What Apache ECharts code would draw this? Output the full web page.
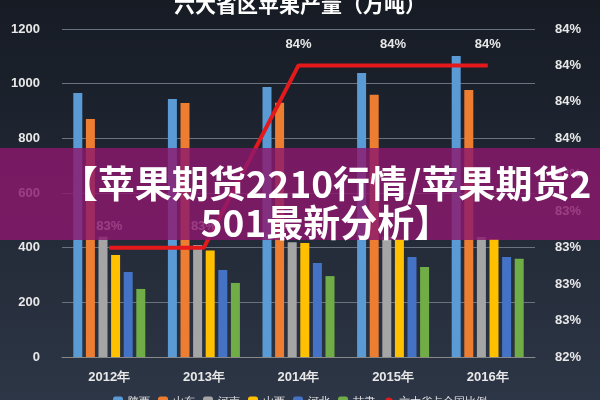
<!DOCTYPE html><html><head><meta charset="utf-8"><script src="https://cdn.jsdelivr.net/npm/echarts@6/dist/echarts.min.js"></script>
<style>html,body{margin:0;background:#262e3b}#c{width:600px;height:400px}</style></head><body><div id="c"></div><script>
const years=['2012年','2013年','2014年','2015年','2016年'];
const names=['陕西','山东','河南','山西','河北','甘肃'];
const shaanxi=[966,944,988,1039,1101];
const shandong=[871,929,930,959,977];
const henan=[440,410,420,440,439];
const shanxi=[373,390,417,432,432];
const hebei=[311,318,344,366,366];
const gansu=[249,271,296,329,359];
const ratio=[0.830,0.830,0.840,0.840,0.840];
const colors=['#5b9bd5','#ed7d31','#a5a5a5','#ffc000','#4472c4','#70ad47'];
const vals=[shaanxi,shandong,henan,shanxi,hebei,gansu];
const ch=echarts.init(document.getElementById('c'));
const txt='#e8e8e8';
ch.setOption({
backgroundColor:{type:'linear',x:0,y:0,x2:0,y2:1,colorStops:[{offset:0,color:'#161b24'},{offset:1,color:'#2d3646'}]},
title:{text:'六大省区苹果产量（万吨）',left:'center',top:-11,textStyle:{color:'#fff',fontSize:21,fontWeight:'bold',fontFamily:'Noto Sans CJK SC'}},
legend:{bottom:-12,itemWidth:10,itemHeight:10,textStyle:{color:txt,fontSize:11},data:[...names,'六大省占全国比例']},
grid:{left:62,right:65,top:29,bottom:43},
xAxis:{type:'category',data:years,axisLine:{lineStyle:{color:'#888'}},axisTick:{show:false},axisLabel:{color:txt,fontWeight:'bold',fontSize:13,margin:14}},
yAxis:[{type:'value',min:0,max:1200,interval:200,axisLabel:{color:txt,fontWeight:'bold',fontSize:13,margin:22,formatter:v=>String(v)},splitLine:{lineStyle:{color:'#6a7280'}}},
{type:'value',min:0.824,max:0.842,interval:0.002,splitLine:{show:false},axisLabel:{color:txt,fontWeight:'bold',fontSize:13,margin:20,formatter:v=>Math.round(v*100)+'%'}}],
series:[...names.map((n,i)=>({name:n,type:'bar',data:vals[i],barWidth:9,barGap:'40%',barCategoryGap:'30%',itemStyle:{color:colors[i]}})),
{name:'六大省占全国比例',type:'line',yAxisIndex:1,data:ratio,symbol:'circle',symbolSize:1,showSymbol:true,z:10,lineStyle:{color:'#e3191c',width:4},itemStyle:{color:'#e3191c'},
label:{show:true,position:'top',distance:14,color:'#e8e8e8',fontWeight:'bold',fontSize:13,formatter:p=>Math.round(p.value*100)+'%'}}],
graphic:[{type:'rect',left:0,top:148,shape:{width:600,height:92},style:{fill:'rgba(140,25,110,0.82)'},z:100},
{type:'text',x:326,y:203,style:{text:'【苹果期货2210行情/苹果期货2\n501最新分析】',fill:'#fff',font:'bold 37px "Noto Sans CJK SC"',lineHeight:39,align:'center',verticalAlign:'middle'},z:101}]
});
</script></body></html>
